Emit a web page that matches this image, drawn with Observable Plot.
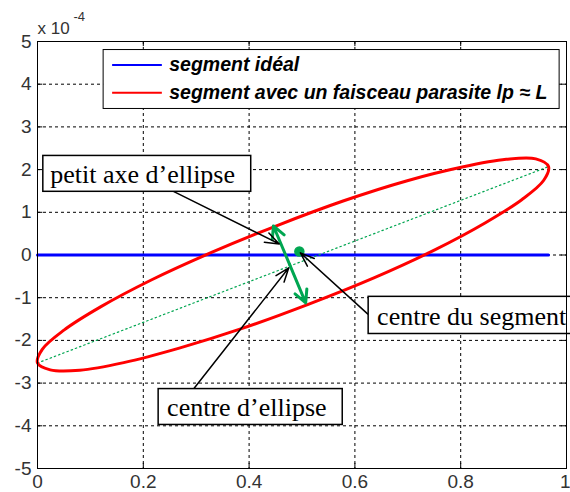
<!DOCTYPE html>
<html><head><meta charset="utf-8">
<script src="https://cdn.jsdelivr.net/npm/d3@7"></script>
<script src="https://cdn.jsdelivr.net/npm/@observablehq/plot@0.6"></script>
<style>body{margin:0;background:#fff}#chart{width:570px;height:492px}</style>
</head><body><div id="chart"></div>
<script>
// ---- data (y in units of 1e-4) ----
const xTicks = [0, 0.2, 0.4, 0.6, 0.8, 1];
const yTicks = [-5, -4, -3, -2, -1, 0, 1, 2, 3, 4, 5];
const idealX = [0, 0.966];
const idealY = [0, 0];
const ellipseX = [0.966, 0.942, 0.886, 0.803, 0.699, 0.579, 0.453, 0.329, 0.216, 0.120, 0.050, 0.009,
                  0.000, 0.024, 0.080, 0.163, 0.268, 0.387, 0.513, 0.637, 0.751, 0.846, 0.916, 0.957];
const ellipseY = [2.07, 2.25, 2.24, 2.06, 1.74, 1.27, 0.69, 0.06, -0.58, -1.21, -1.76, -2.21,
                  -2.53, -2.69, -2.70, -2.52, -2.18, -1.72, -1.15, -0.53, 0.12, 0.75, 1.30, 1.75];
const majorAxisX = [0, 0.966];
const majorAxisY = [-2.53, 2.07];
const minorAxisX = [0.446, 0.507];
const minorAxisY = [0.68, -1.12];
const minorCentre = [0.4765, -0.22];
const segmentCentre = [0.495, 0.08];
const legendLabels = ["segment idéal", "segment avec un faisceau parasite lp ≈ L"];
const legendColors = ["#0000ff", "#ff0000"];
const noteLabels = ["petit axe d’ellipse", "centre du segment", "centre d’ellipse"];
const noteTipX = [0.457, 0.497, 0.475];
const noteTipY = [0.26, 0.05, -0.30];

// ---- layout of annotations (data coordinates) ----
const notes = noteLabels.map((label, i) => ({
  label, tipX: noteTipX[i], tipY: noteTipY[i],
  ...[
    {bx1: 0.011, bx2: 0.404, by1: 1.48, by2: 2.32, tx: 0.024, ty: 1.88, ax: 0.255, ay: 1.50},
    {bx1: 0.626, bx2: 1.04, by1: -0.98, by2: -1.85, tx: 0.642, ty: -1.44, ax: 0.624, ay: -1.38},
    {bx1: 0.229, bx2: 0.577, by1: -3.14, by2: -3.98, tx: 0.245, ty: -3.58, ax: 0.295, ay: -3.14}
  ][i]
}));
const legendRows = legendLabels.map((label, i) => ({label, color: legendColors[i], y: [4.45, 3.80][i]}));
const idx = n => d3.range(n);
const green = "#00a651";
const tickColor = "#333";

const chart = Plot.plot({
  width: 570, height: 492,
  marginLeft: 37, marginRight: 4, marginTop: 41, marginBottom: 24,
  x: {domain: [0, 1]},
  y: {domain: [-5, 5]},
  style: {fontFamily: "'Liberation Sans', Arial, sans-serif", fontSize: "19px", color: tickColor, background: "#fff"},
  marks: [
    Plot.gridX(xTicks, {stroke: "#000", strokeOpacity: 1, strokeDasharray: "3,3", strokeWidth: 1}),
    Plot.gridY(yTicks, {stroke: "#000", strokeOpacity: 1, strokeDasharray: "3,3", strokeWidth: 1}),
    Plot.axisX(xTicks.slice(0, -1), {tickSize: 0, tickPadding: 6, tickFormat: d => String(d), fontSize: 19}),
    Plot.text(xTicks.slice(-1), {x: d => d, frameAnchor: "bottom", text: d => String(d), textAnchor: "end", lineAnchor: "top", dx: 4, dy: 6, fontSize: 19, fill: tickColor}),
    Plot.axisY(yTicks, {tickSize: 0, tickPadding: 6, tickFormat: d => String(d), fontSize: 19}),
    // inward ticks
    Plot.ruleX(xTicks, {x: d => d, y1: 5, y2: 4.88, stroke: "#000"}),
    Plot.ruleX(xTicks, {x: d => d, y1: -5, y2: -4.88, stroke: "#000"}),
    Plot.ruleY(yTicks, {y: d => d, x1: 0, x2: 0.01, stroke: "#000"}),
    Plot.ruleY(yTicks, {y: d => d, x1: 1, x2: 0.99, stroke: "#000"}),
    // ideal segment
    Plot.line(idx(idealX.length), {x: i => idealX[i], y: i => idealY[i], stroke: legendColors[0], strokeWidth: 3}),
    // major axis dotted
    Plot.line(idx(majorAxisX.length), {x: i => majorAxisX[i], y: i => majorAxisY[i], stroke: green, strokeWidth: 1.2, strokeDasharray: "1.5,3"}),
    // ellipse
    Plot.line(idx(ellipseX.length), {x: i => ellipseX[i], y: i => ellipseY[i], stroke: legendColors[1], strokeWidth: 3, curve: "catmull-rom-closed"}),
    // minor axis double arrow
    Plot.arrow([0, 1], {x1: () => minorCentre[0], y1: () => minorCentre[1], x2: i => minorAxisX[i], y2: i => minorAxisY[i],
      stroke: green, strokeWidth: 3, headLength: 14, headAngle: 55}),
    Plot.dot([segmentCentre], {x: d => d[0], y: d => d[1], r: 4.5, fill: green, stroke: green}),
    // annotation arrows
    Plot.arrow(notes, {x1: "ax", y1: "ay", x2: "tipX", y2: "tipY", stroke: "#000", strokeWidth: 1.5, headLength: 15, headAngle: 40}),
    Plot.rect(notes, {x1: "bx1", x2: "bx2", y1: "by1", y2: "by2", fill: "#fff", stroke: "#000", strokeWidth: 1.5}),
    Plot.text(notes, {x: "tx", y: "ty", text: "label", textAnchor: "start", fontSize: 26, fontFamily: "'Liberation Serif', 'DejaVu Serif', serif", fill: "#000"}),
    // legend
    Plot.rect([0], {x1: 0.125, x2: 0.987, y1: 4.80, y2: 3.42, fill: "#fff", stroke: "#000", strokeWidth: 1}),
    Plot.ruleY(legendRows, {y: "y", x1: 0.142, x2: 0.236, stroke: "color", strokeWidth: 2}),
    Plot.text(legendRows, {x: 0.249, y: "y", text: "label", textAnchor: "start", fontSize: 19.5, fontWeight: "bold", fontStyle: "italic", fill: "#000"}),
    Plot.frame({stroke: "#000", strokeWidth: 1}),
    // exponent label
    Plot.text(["x 10"], {frameAnchor: "top-left", text: d => d, textAnchor: "start", lineAnchor: "bottom", dx: 0, dy: -8, fontSize: 17, fill: tickColor}),
    Plot.text(["-4"], {frameAnchor: "top-left", text: d => d, textAnchor: "start", lineAnchor: "bottom", dx: 36, dy: -21, fontSize: 13, fill: tickColor})
  ]
});
document.getElementById("chart").appendChild(chart);
</script>
</body></html>
